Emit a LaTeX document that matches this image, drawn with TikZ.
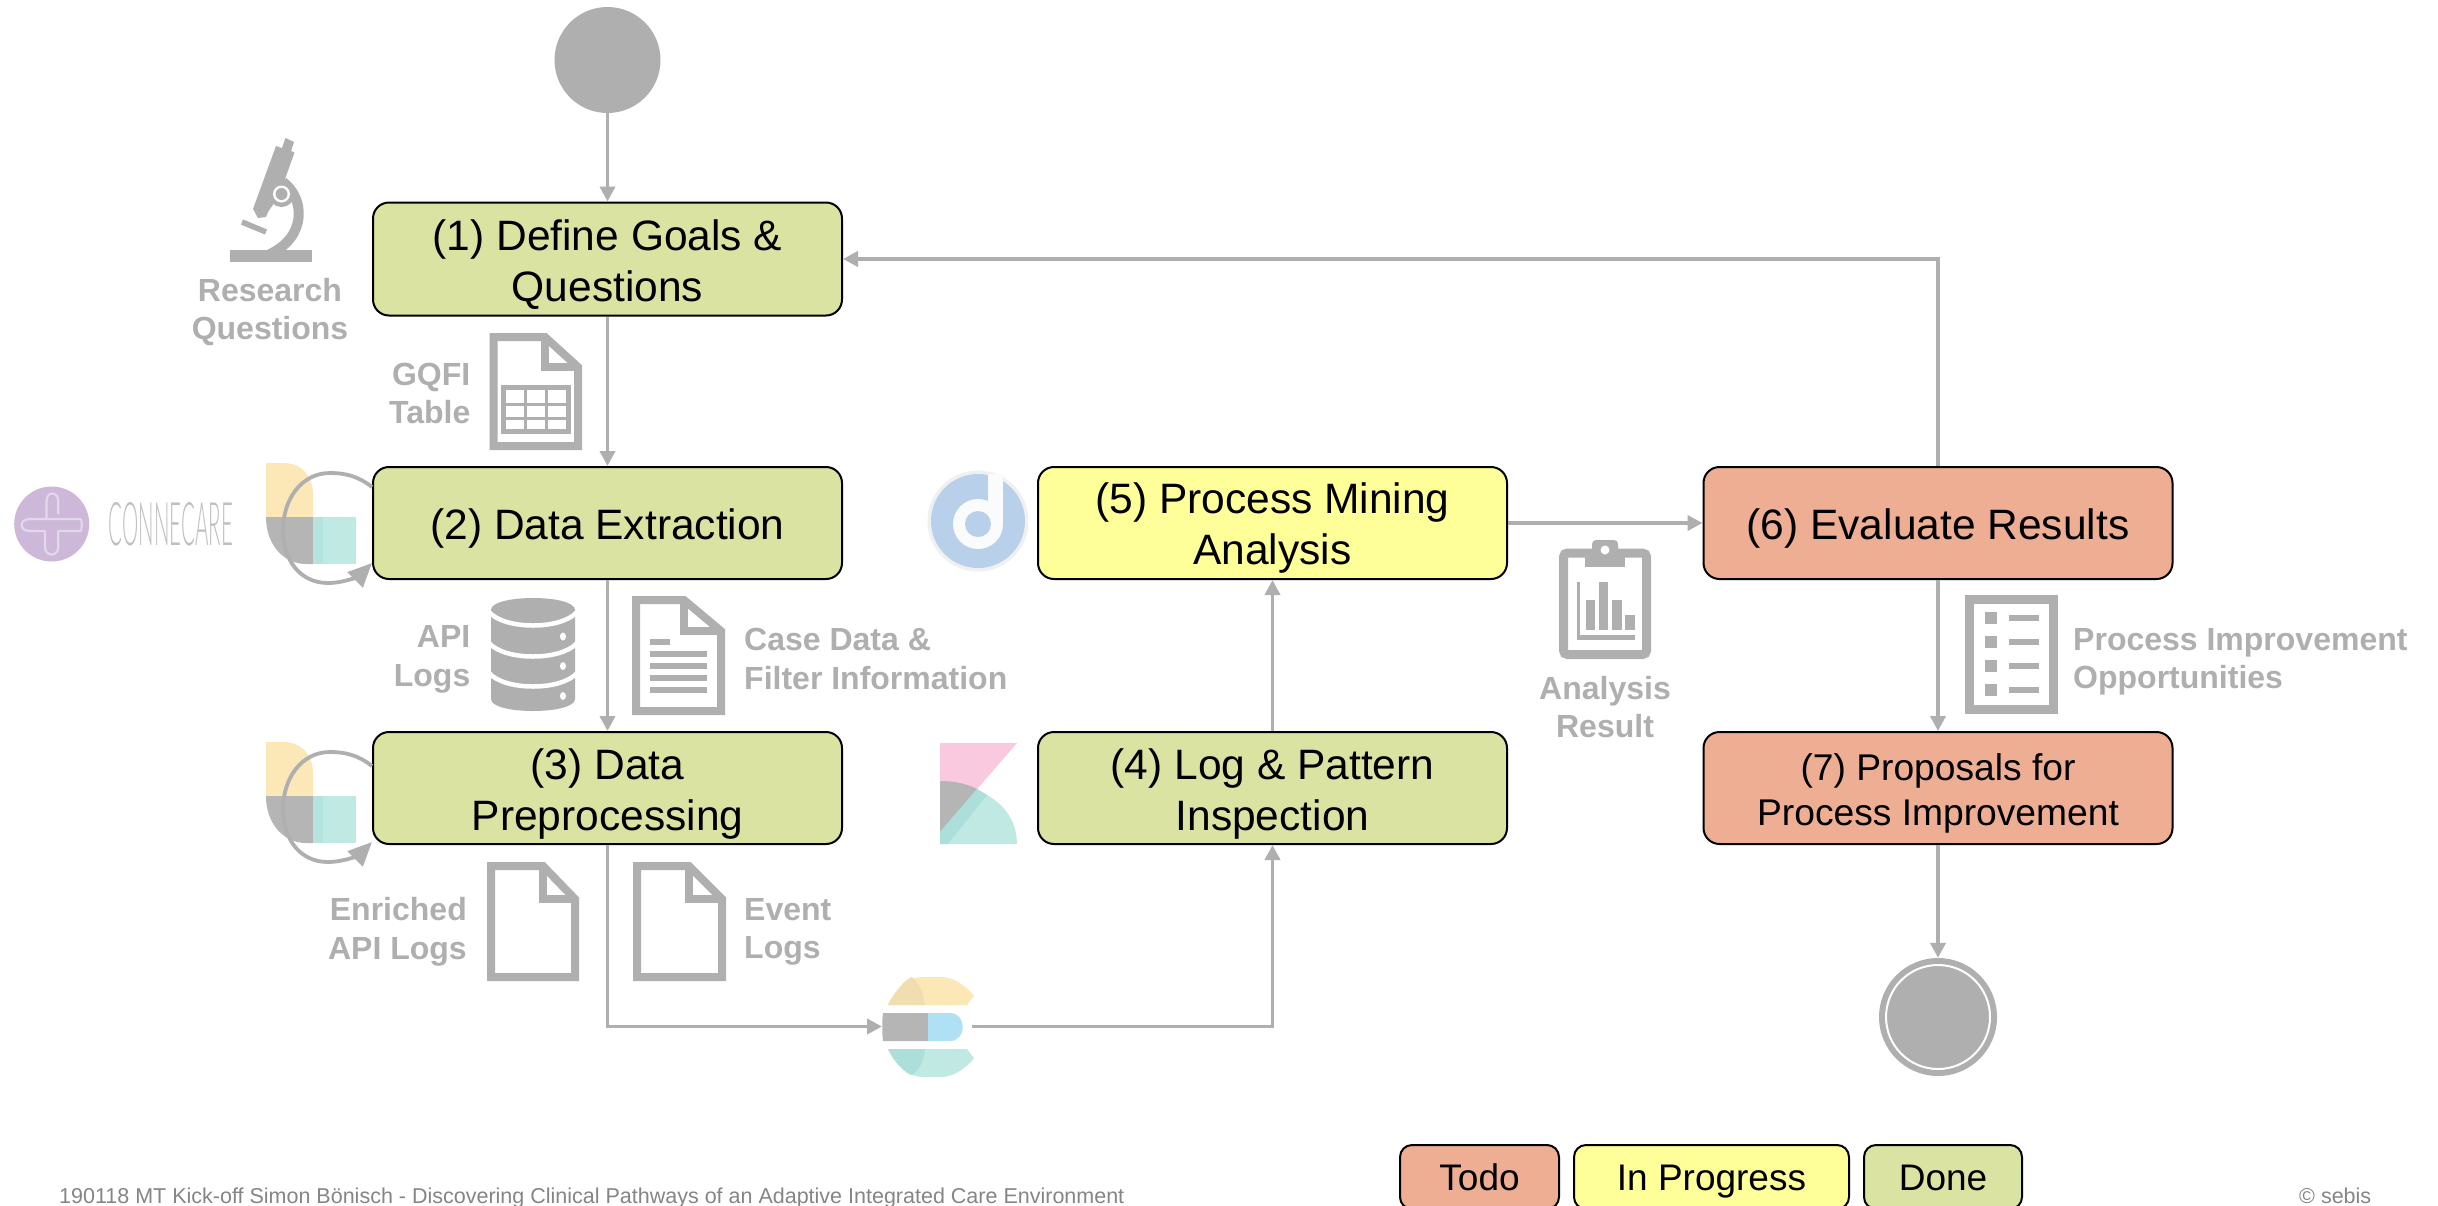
\documentclass[tikz,border=0pt]{standalone}
\usepackage{fontspec}
\setmainfont{Liberation Sans}
\newfontfamily\thinfont{Lato Light}
\usetikzlibrary{arrows.meta,calc}
\definecolor{ggray}{HTML}{AFAFAF}
\definecolor{gdone}{HTML}{DBE3A2}
\definecolor{gprog}{HTML}{FFFF99}
\definecolor{gtodo}{HTML}{EDAE93}
\definecolor{lyellow}{HTML}{FBE8B6}
\definecolor{dyellow}{HTML}{F1DEB0}
\definecolor{lteal}{HTML}{C0E9E4}
\definecolor{dteal}{HTML}{ADDFDA}
\definecolor{lblue}{HTML}{B0E0F3}
\definecolor{lpink}{HTML}{F9C9DF}
\definecolor{dgray}{HTML}{B5B5B5}
\definecolor{discob}{HTML}{B9D0EA}
\definecolor{conn}{HTML}{CDB8DA}
\tikzset{
  stepbox/.style={draw=black,line width=2pt,rounded corners=16pt,minimum width=469pt,minimum height=112pt,inner sep=0pt},
  steptext/.style={align=center,text=black,inner sep=0pt,yshift=-5.5pt,font=\fontsize{42.5}{51}\selectfont},
  stepsmall/.style={align=center,text=black,inner sep=0pt,yshift=-5.5pt,font=\fontsize{37.2}{45.5}\selectfont},
  legendbox/.style={draw=black,line width=2pt,rounded corners=12pt,minimum height=64pt,inner sep=0pt,text height=33pt,text depth=7pt,text=black,font=\fontsize{37}{44}\selectfont},
  flow/.style={draw=ggray,line width=3.8pt,-{Triangle[length=15pt,width=15pt]}},
  loopflow/.style={draw=ggray,line width=3.8pt,-{Triangle[length=24pt,width=21pt]}},
  artifact/.style={text=ggray,inner sep=0pt,font=\fontsize{32}{38.5}\selectfont\bfseries},
  iconline/.style={draw=ggray,line width=8pt,miter limit=10},
  footer/.style={text=black!48,inner sep=0pt,font=\fontsize{21.5}{24}\selectfont},
}
% x1 y1 x2 y2 foldx foldy
\newcommand\docshape[6]{%
  \draw[iconline] ({#1+4},{#2+4}) -- (#5,{#2+4}) -- ({#3-4},#6) -- ({#3-4},{#4-4}) -- ({#1+4},{#4-4}) -- cycle;
  \draw[iconline] (#5,{#2+4}) -- (#5,#6) -- ({#3-4},#6);
}
\newcommand\wavelogo[1]{%
  \begin{scope}[shift={(0,#1)}]
    \fill[lyellow] (266,463) -- (283,463) .. controls (302,463) and (313,476) .. (313,495) -- (313,517) -- (266,517) -- cycle;
    \fill[dgray] (266,517) -- (313,517) -- (313,564) -- (306,564) .. controls (284,564) and (266,545) .. (266,517) -- cycle;
    \fill[lteal] (313,517) rectangle (356,564);
    \fill[dteal!60!lteal] (313,517) rectangle (323,564);
  \end{scope}
}
\begin{document}
\begin{tikzpicture}[x=1pt,y=-1pt]
\useasboundingbox (0,0) rectangle (2438,1205);
\fill[white] (0,0) rectangle (2438,1205);

% --- icons ---
\wavelogo{0}
\wavelogo{279}

% microscope
\fill[ggray] (230,250) rectangle (312,262);
\fill[ggray] (285.5,138) -- (294,142) -- (291,151) -- (294.5,152.5) -- (279,196) -- (268,212) -- (266,217) -- (258,218) -- (253,209) -- (276,146) -- (282,148) -- cycle;
\draw[ggray,line width=10pt] (283,182) .. controls (304,197) and (308,236) .. (270,254);
\fill[ggray] (281.5,194) circle (13);
\fill[white] (281.5,194) circle (8.5);
\fill[ggray] (281.5,194) circle (6);
\draw[ggray,line width=5.5pt] (242,222) -- (266,232);

% table document
\docshape{489.5}{333}{582}{450}{545}{367}
\draw[ggray,line width=5pt] (503.5,387.5) rectangle (568,431);
\draw[ggray,line width=3pt] (525.5,388) -- (525.5,431) (546,388) -- (546,431) (503,404) -- (568,404) (503,418) -- (568,418);

% connecare
\fill[conn] (51.7,524) circle (37.5);
\draw[white!45!conn,line width=2.2pt,line join=round] (81,519) -- (29.5,519) .. controls (19,519) and (19,531) .. (29.5,531) -- (45,531) -- (45,547) .. controls (45,557) and (58.3,557) .. (58.3,547) -- (58.3,531) -- (81,531) .. controls (82,527) and (82,523) .. (81,519);
\draw[white!45!conn,line width=2.2pt,line join=round] (46.5,519) -- (46.5,501) .. controls (46.5,491) and (58.3,491) .. (58.3,501) -- (58.3,514);
\node[text=black!25,inner sep=0pt,anchor=center] (connetext) at (171,524.5) {\resizebox{124pt}{43pt}{\thinfont CONNECARE}};

% database
\fill[ggray] (491,610) .. controls (491,594) and (575,594) .. (575,610) -- (575,699) .. controls (575,715) and (491,715) .. (491,699) -- cycle;
\draw[white,line width=4.5pt] (489,612) .. controls (505,630) and (561,630) .. (577,612);
\draw[white,line width=4.5pt] (489,643) .. controls (505,661) and (561,661) .. (577,643);
\draw[white,line width=4.5pt] (489,673) .. controls (505,691) and (561,691) .. (577,673);
\foreach \dy in {636.5,666,696} \fill[white] (563,\dy) ellipse (3 and 4);

% text document
\docshape{632}{596}{725}{715}{684}{631}
\fill[ggray] (650,639) rectangle (670,645);
\foreach \ly in {654,666,678,690} \fill[ggray] (650,{\ly-3}) rectangle (707,{\ly+3});

% empty documents
\docshape{487}{862}{579}{981}{543}{899}
\docshape{633}{862}{726}{981}{689}{899}

% elastic
\fill[lyellow] (888,1005) .. controls (895,990) and (908,977) .. (922,977) -- (944,977) .. controls (957,979) and (968,988) .. (974,996) -- (967,1005) -- cycle;
\fill[dyellow] (888,1005) .. controls (895,990) and (908,977) .. (912,977) .. controls (920,984) and (924,995) .. (925,1005) -- cycle;
\fill[lteal] (888,1049) .. controls (895,1064) and (908,1077) .. (922,1077) -- (944,1077) .. controls (957,1075) and (968,1066) .. (974,1058) -- (967,1049) -- cycle;
\fill[dteal] (888,1049) .. controls (895,1064) and (908,1075) .. (912,1075) .. controls (920,1070) and (924,1059) .. (925,1049) -- cycle;
\fill[dgray] (883,1013) -- (928,1013) -- (928,1041) -- (883,1041) .. controls (882,1032) and (882,1022) .. (883,1013) -- cycle;
\fill[lblue] (928,1013) -- (950,1013) .. controls (967,1013) and (967,1041) .. (950,1041) -- (928,1041) -- cycle;

% kibana
\fill[lpink] (940,743) -- (1017,743) -- (940,832) -- cycle;
\fill[lteal] (940,844) -- (1017,844) .. controls (1017,822) and (1005,805) .. (987,795) -- (977,789) -- (940,832) -- cycle;
\fill[dgray] (940,781) .. controls (955,781) and (967,784) .. (977,789) -- (940,832) -- cycle;
\fill[dteal] (940,832) -- (977,789) -- (987,795) -- (948,844) -- (940,844) -- cycle;

% disco
\fill[black!6] (978,521) circle (50.5);
\fill[discob] (978,521) circle (47);
\fill[white!92!discob] (978,524) circle (25);
\fill[white!92!discob] (988,474) rectangle (1003,524);
\fill[discob] (978,524) circle (13);

% clipboard
\draw[ggray,line width=9pt,rounded corners=4pt] (1563.5,553) rectangle (1646.5,654.5);
\fill[ggray] (1585,549) rectangle (1625,567);
\fill[ggray,rounded corners=4pt] (1592,540) rectangle (1618,556);
\fill[white] (1605,550) circle (4.5);
\fill[ggray] (1577,582) rectangle (1580,640);
\fill[ggray] (1577,635) rectangle (1635,640);
\fill[ggray] (1586,600) rectangle (1595,630);
\fill[ggray] (1599,582) rectangle (1608,630);
\fill[ggray] (1612,600) rectangle (1622,630);
\fill[ggray] (1625,615) rectangle (1635,630);

% checklist
\draw[ggray,line width=9pt] (1969.5,599) rectangle (2053.5,709);
\foreach \ly in {618,642,666,690} {
  \fill[ggray] (1985,{\ly-6}) rectangle (1997,{\ly+6});
  \fill[ggray] (2009,{\ly-3}) rectangle (2039,{\ly+3});
}

% --- artifact labels ---
\node[artifact,align=center] (lresearch) at (270,312) {Research\\Questions};
\node[artifact,align=right,anchor=east] (lgqfi) at (470.5,393.5) {GQFI\\Table};
\node[artifact,align=right,anchor=east] (lapi) at (470.5,659.5) {API\\Logs};
\node[artifact,align=left,anchor=west] (lcase) at (744,659) {Case Data \&\\Filter Information};
\node[artifact,align=right,anchor=east] (lenriched) at (467,932) {Enriched\\API Logs};
\node[artifact,align=left,anchor=west] (levent) at (744,932) {Event\\Logs};
\node[artifact,align=center] (lanalysis) at (1605,707) {Analysis\\Result};
\node[artifact,align=left,anchor=west] (limprove) at (2073,662) {Process Improvement\\Opportunities};

% --- steps ---
\node[stepbox,fill=gdone,minimum height=113pt,label={[steptext]center:{(1) Define Goals \&\\Questions}}] (box1) at (607.5,259) {};
\node[stepbox,fill=gdone,label={[steptext]center:{(2) Data Extraction}}] (box2) at (607.5,523) {};
\node[stepbox,fill=gdone,label={[steptext]center:{(3) Data\\Preprocessing}}] (box3) at (607.5,788) {};
\node[stepbox,fill=gdone,label={[steptext]center:{(4) Log \& Pattern\\Inspection}}] (box4) at (1272.5,788) {};
\node[stepbox,fill=gprog,label={[steptext]center:{(5) Process Mining\\Analysis}}] (box5) at (1272.5,523) {};
\node[stepbox,fill=gtodo,label={[steptext]center:{(6) Evaluate Results}}] (box6) at (1938,523) {};
\node[stepbox,fill=gtodo,label={[stepsmall]center:{(7) Proposals for\\Process Improvement}}] (box7) at (1938,788) {};

\node[circle,fill=ggray,inner sep=0pt,minimum size=106pt] (start) at (607.5,60) {};
\node[circle,fill=ggray,inner sep=0pt,minimum size=118pt] (finish) at (1938,1017) {};
\draw[white,line width=2pt] (finish.center) circle (52);

\coordinate (elasticin) at (882,1026.5);
\coordinate (elasticout) at (972,1026.5);
\coordinate (fbcorner) at (1938,259);

% --- connectors ---
\draw[flow] (start) -- (box1);
\draw[flow] (box1) -- (box2);
\draw[flow] (box2) -- (box3);
\draw[flow] (box3.south) |- (elasticin);
\draw[flow] (elasticout) -| (box4.south);
\draw[flow] (box4) -- (box5);
\draw[flow] (box5) -- (box6);
\draw[flow] (box6.north) -- (fbcorner) -- (box1.east |- fbcorner);
\draw[flow] (box6) -- (box7);
\draw[flow] (box7) -- (finish);

\draw[loopflow] ([yshift=36pt]box2.west) .. controls (358,476) and (345,473) .. (330,473) .. controls (301,473) and (283,500) .. (283,530) .. controls (283,560) and (300,583) .. (328,583) .. controls (345,583) and (360,575) .. ([yshift=-40pt]box2.west);
\draw[loopflow] ([yshift=22pt]box3.west) .. controls (358,755) and (345,752) .. (330,752) .. controls (301,752) and (283,779) .. (283,809) .. controls (283,839) and (300,862) .. (328,862) .. controls (345,862) and (360,854) .. ([yshift=-54pt]box3.west);

% --- legend ---
\node[legendbox,fill=gtodo,minimum width=159pt] (ltodo) at (1479.5,1177) {Todo};
\node[legendbox,fill=gprog,minimum width=275pt] (lprog) at (1711.5,1177) {In Progress};
\node[legendbox,fill=gdone,minimum width=158pt] (ldone) at (1943,1177) {Done};

% --- footer ---
\node[footer,anchor=base west] (foot) at (59,1203) {190118 MT Kick-off Simon Bönisch - Discovering Clinical Pathways of an Adaptive Integrated Care Environment};
\node[footer,anchor=base west] (copy) at (2299,1203) {© sebis};
\end{tikzpicture}
\end{document}
